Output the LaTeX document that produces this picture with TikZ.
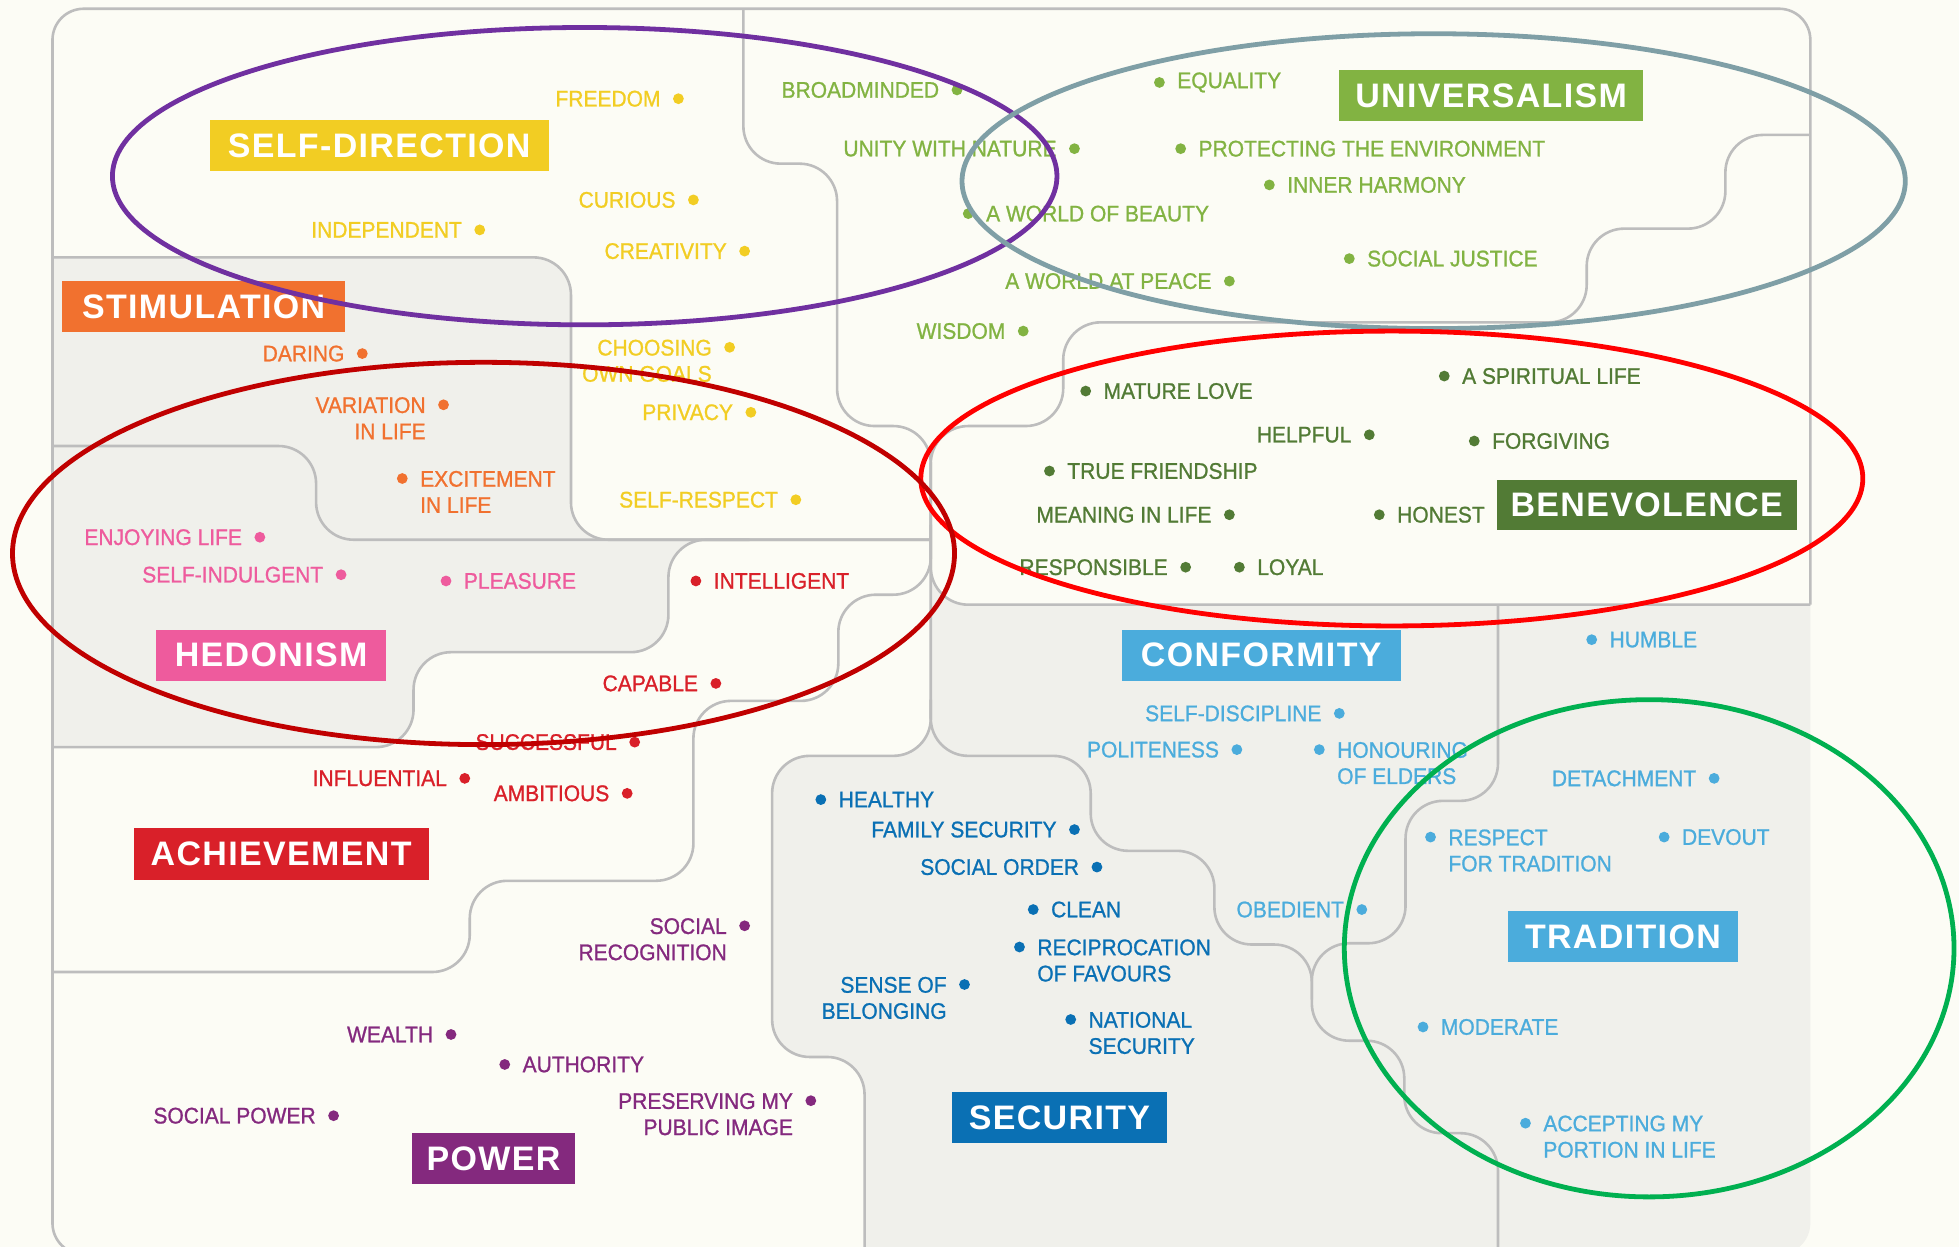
\documentclass[tikz,border=0pt]{standalone}
\usepackage{fontspec}
\setmainfont{Liberation Sans}
\newfontfamily\valfam[FakeStretch=0.93,FakeBold=1]{Liberation Sans}
\newfontfamily\hdrfam[LetterSpace=4]{Liberation Sans}
\usetikzlibrary{calc}
\definecolor{bgc}{HTML}{FCFCF5}
\definecolor{grayc}{HTML}{F0F0EB}
\definecolor{linec}{HTML}{BDBDBD}
\definecolor{cyel}{HTML}{F2CD23}
\definecolor{cuni}{HTML}{82B342}
\definecolor{cben}{HTML}{527B35}
\definecolor{cstim}{HTML}{F1712F}
\definecolor{ched}{HTML}{EE5B9D}
\definecolor{cach}{HTML}{D92029}
\definecolor{cpow}{HTML}{84297E}
\definecolor{csec}{HTML}{0A70B4}
\definecolor{ccon}{HTML}{4BACDC}
\definecolor{epur}{HTML}{7030A0}
\definecolor{eteal}{HTML}{7F9FA6}
\definecolor{ered}{HTML}{FF0000}
\definecolor{edred}{HTML}{C00000}
\definecolor{egrn}{HTML}{00B050}
\tikzset{
  val/.style={font=\valfam\fontsize{11.3pt}{13.1pt}\selectfont, inner sep=0pt},
  hdr/.style={font=\hdrfam\bfseries\fontsize{17pt}{20pt}\selectfont, text=white, inner sep=0pt, minimum height=25.6pt},
  vdot/.style={circle, inner sep=0pt, minimum size=5.4pt},
  border/.style={draw=linec, line width=1.3pt, rounded corners=18.75pt},
  ring/.style={line width=2.4pt},
  grayfill/.style={fill=grayc},
}
\newcommand\lbl[5]{%
  \node[vdot, fill=#4] (#1d) at (#2,#3) {};
  \node[val, text=#4, anchor=east, xshift=-8.75pt] (#1) at (#2,#3) {#5};}
\newcommand\rbl[5]{%
  \node[vdot, fill=#4] (#1d) at (#2,#3) {};
  \node[val, text=#4, anchor=west, xshift=8.75pt] (#1) at (#2,#3) {#5};}
\newcommand\lblt[6]{%
  \node[vdot, fill=#4] (#1d) at (#2,#3) {};
  \node[val, text=#4, anchor=north east, align=right, xshift=-8.75pt, yshift=4pt] (#1) at (#2,#3) {#5\\#6};}
\newcommand\rblt[6]{%
  \node[vdot, fill=#4] (#1d) at (#2,#3) {};
  \node[val, text=#4, anchor=north west, align=left, xshift=8.75pt, yshift=4pt] (#1) at (#2,#3) {#5\\#6};}
\begin{document}
\begin{tikzpicture}[x=0.625pt, y=-0.625pt]
\useasboundingbox (0,0) rectangle (1568,998);
\fill[bgc] (0,0) rectangle (1568,998);
% gray regions
\begin{scope}
\clip[rounded corners=15.6pt] (42,7) rectangle (1449,1004);
\fill[grayfill, rounded corners=18.75pt] (200,206) -- (457,206) -- (457,432) -- (535,432) -- (535,522) -- (331,522) -- (331,598) -- (0,598) -- (0,206) -- cycle;
\fill[grayfill] (500,432) -- (565,432) .. controls (548.4,432) and (535,445.4) .. (535,462) -- (535,470) -- (500,470) -- cycle;
\fill[grayfill, rounded corners=18.75pt] (900,1050) -- (1500,1050) -- (1500,484) -- (745,484) -- (745,605) -- (618,605) -- (618,846) -- (692,846) -- (692,1050) -- cycle;
\fill[grayfill] (745,454) .. controls (745,470.6) and (758.4,484) .. (775,484) -- (775,520) -- (745,520) -- cycle;
\end{scope}
% frame
\draw[draw=linec, line width=1.3pt, rounded corners=15.6pt] (1449,484) -- (1449,7) -- (42,7) -- (42,1004) -- (750,1004);
% boundary lines
\draw[border] (42,206) -- (457,206) -- (457,432) -- (745,432);
\draw[border] (42,357) -- (253,357) -- (253,432) -- (745,432);
\draw[border] (600,432) -- (535,432) -- (535,522) -- (331,522) -- (331,598) -- (42,598);
\draw[border] (745,420) -- (745,476) -- (671,476) -- (671,561) -- (555,561) -- (555,705) -- (376,705) -- (376,778) -- (42,778);
\draw[border] (595,7) -- (595,131) -- (670,131) -- (670,341) -- (745,341) -- (745,605) -- (618,605) -- (618,846) -- (692,846) -- (692,1010);
\draw[border] (1449,108) -- (1381,108) -- (1381,183) -- (1270,183) -- (1270,258) -- (851,258) -- (851,341) -- (745,341) -- (745,420);
\draw[border] (745,420) -- (745,484) -- (1449,484);
\draw[border] (745,560) -- (745,605) -- (873,605) -- (873,681) -- (972,681) -- (972,756) -- (1050,756) -- (1050,833) -- (1124,833) -- (1124,907) -- (1199,907) -- (1199,1010);
\draw[border] (1199,484) -- (1199,641) -- (1125,641) -- (1125,755) -- (1050,755) -- (1050,800);
% headers
\node[hdr, fill=cyel, minimum width=169.4pt] (hsd) at (303.5,116.5) {SELF-DIRECTION};
\node[hdr, fill=cuni, minimum width=151.9pt] (huni) at (1193.5,76.5) {UNIVERSALISM};
\node[hdr, fill=cstim, minimum width=141.25pt] (hstim) at (163,245.5) {STIMULATION};
\node[hdr, fill=ched, minimum width=115pt] (hhed) at (217,524.5) {HEDONISM};
\node[hdr, fill=cach, minimum width=147.5pt] (hach) at (225,683.5) {ACHIEVEMENT};
\node[hdr, fill=cpow, minimum width=81.25pt] (hpow) at (395,927.5) {POWER};
\node[hdr, fill=csec, minimum width=107.5pt] (hsec) at (848,894.5) {SECURITY};
\node[hdr, fill=ccon, minimum width=139.4pt] (hcon) at (1009.5,524.5) {CONFORMITY};
\node[hdr, fill=ccon, minimum width=115pt] (htra) at (1299,749.5) {TRADITION};
\node[hdr, fill=cben, minimum width=150pt, minimum height=25pt] (hben) at (1318,404) {BENEVOLENCE};
% self-direction
\lbl{freedom}{543}{79}{cyel}{FREEDOM}
\lbl{curious}{555}{160}{cyel}{CURIOUS}
\lbl{independent}{384}{184}{cyel}{INDEPENDENT}
\lbl{creativity}{596}{201}{cyel}{CREATIVITY}
\lblt{choosing}{584}{278}{cyel}{CHOOSING}{OWN GOALS}
\lbl{privacy}{601}{330}{cyel}{PRIVACY}
\lbl{selfrespect}{637}{400}{cyel}{SELF-RESPECT}
% universalism
\lbl{broadminded}{766}{72}{cuni}{BROADMINDED}
\lbl{unity}{860}{119}{cuni}{UNITY WITH NATURE}
\rbl{equality}{928}{66}{cuni}{EQUALITY}
\rbl{protecting}{945}{119}{cuni}{PROTECTING THE ENVIRONMENT}
\rbl{harmony}{1016}{148}{cuni}{INNER HARMONY}
\rbl{beauty}{775}{171}{cuni}{A WORLD OF BEAUTY}
\rbl{justice}{1080}{207}{cuni}{SOCIAL JUSTICE}
\lbl{peace}{984}{225}{cuni}{A WORLD AT PEACE}
\lbl{wisdom}{819}{265}{cuni}{WISDOM}
% benevolence
\rbl{maturelove}{869}{313}{cben}{MATURE LOVE}
\rbl{spiritual}{1156}{301}{cben}{A SPIRITUAL LIFE}
\lbl{helpful}{1096}{348}{cben}{HELPFUL}
\rbl{forgiving}{1180}{353}{cben}{FORGIVING}
\rbl{friendship}{840}{377}{cben}{TRUE FRIENDSHIP}
\lbl{meaning}{984}{412}{cben}{MEANING IN LIFE}
\rbl{honest}{1104}{412}{cben}{HONEST}
\lbl{responsible}{949}{454}{cben}{RESPONSIBLE}
\rbl{loyal}{992}{454}{cben}{LOYAL}
% stimulation
\lbl{daring}{290}{283}{cstim}{DARING}
\lblt{variation}{355}{324}{cstim}{VARIATION}{IN LIFE}
\rblt{excitement}{322}{383}{cstim}{EXCITEMENT}{IN LIFE}
% hedonism
\lbl{enjoying}{208}{430}{ched}{ENJOYING LIFE}
\lbl{indulgent}{273}{460}{ched}{SELF-INDULGENT}
\rbl{pleasure}{357}{465}{ched}{PLEASURE}
% achievement
\rbl{intelligent}{557}{465}{cach}{INTELLIGENT}
\lbl{capable}{573}{547}{cach}{CAPABLE}
\lbl{successful}{508}{594}{cach}{SUCCESSFUL}
\lbl{influential}{372}{623}{cach}{INFLUENTIAL}
\lbl{ambitious}{502}{635}{cach}{AMBITIOUS}
% power
\lblt{recognition}{596}{741}{cpow}{SOCIAL}{RECOGNITION}
\lbl{wealth}{361}{828}{cpow}{WEALTH}
\rbl{authority}{404}{852}{cpow}{AUTHORITY}
\lbl{socialpower}{267}{893}{cpow}{SOCIAL POWER}
\lblt{publicimage}{649}{881}{cpow}{PRESERVING MY}{PUBLIC IMAGE}
% security
\rbl{healthy}{657}{640}{csec}{HEALTHY}
\lbl{family}{860}{664}{csec}{FAMILY SECURITY}
\lbl{order}{878}{694}{csec}{SOCIAL ORDER}
\rbl{clean}{827}{728}{csec}{CLEAN}
\rblt{reciprocation}{816}{758}{csec}{RECIPROCATION}{OF FAVOURS}
\lblt{belonging}{772}{788}{csec}{SENSE OF}{BELONGING}
\rblt{national}{857}{816}{csec}{NATIONAL}{SECURITY}
% conformity
\lbl{discipline}{1072}{571}{ccon}{SELF-DISCIPLINE}
\lbl{politeness}{990}{600}{ccon}{POLITENESS}
\rblt{elders}{1056}{600}{ccon}{HONOURING}{OF ELDERS}
\lbl{obedient}{1090}{728}{ccon}{OBEDIENT}
% tradition
\rbl{humble}{1274}{512}{ccon}{HUMBLE}
\lbl{detachment}{1372}{623}{ccon}{DETACHMENT}
\rblt{respect}{1145}{670}{ccon}{RESPECT}{FOR TRADITION}
\rbl{devout}{1332}{670}{ccon}{DEVOUT}
\rbl{moderate}{1139}{822}{ccon}{MODERATE}
\rblt{accepting}{1221}{899}{ccon}{ACCEPTING MY}{PORTION IN LIFE}
% ellipses
\draw[ring, epur] (468,141) ellipse [x radius=378, y radius=119];
\draw[ring, eteal] (1147.5,145) ellipse [x radius=377.5, y radius=118];
\draw[ring, ered] (1114,383) ellipse [x radius=377, y radius=118];
\draw[ring, edred] (387,443) ellipse [x radius=377, y radius=153];
\draw[ring, egrn] (1320,759) ellipse [x radius=244, y radius=199];
\end{tikzpicture}
\end{document}
